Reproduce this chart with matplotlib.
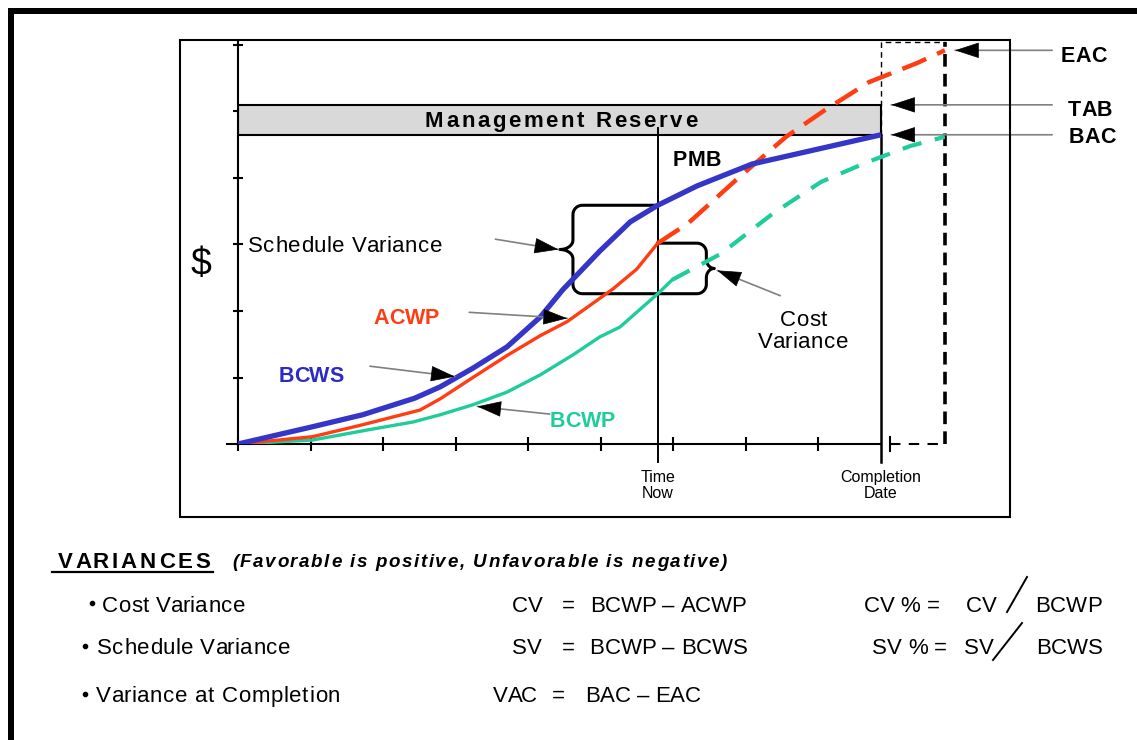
import numpy as np
import matplotlib
matplotlib.use("Agg")
import matplotlib.pyplot as plt
from matplotlib.patches import Rectangle, FancyArrowPatch
from matplotlib.lines import Line2D

# DATA (months on x, $ units on y)
BCWS_MONTH = [0, 1.03, 1.72, 2.44, 2.79, 3.24, 3.71, 4.17, 4.48, 4.99, 5.41, 5.79, 6.33, 7.09, 7.94, 8.87]
BCWS_COST = [0, 0.26, 0.44, 0.69, 0.86, 1.14, 1.46, 1.91, 2.32, 2.90, 3.34, 3.59, 3.88, 4.21, 4.42, 4.65]

ACWP_MONTH = [0, 1.03, 1.72, 2.51, 2.79, 3.24, 3.71, 4.17, 4.54, 4.90, 5.17, 5.50, 5.79]
ACWP_COST = [0, 0.11, 0.29, 0.51, 0.68, 1.00, 1.33, 1.63, 1.84, 2.12, 2.33, 2.63, 3.02]
# forecast of actual cost to the estimate at completion
EAC_MONTH = [5.79, 6.21, 6.90, 7.56, 8.08, 8.70, 9.37, 9.75]
EAC_COST = [3.02, 3.32, 4.00, 4.62, 5.01, 5.44, 5.73, 5.92]

BCWP_MONTH = [0, 1.03, 1.78, 2.41, 2.79, 3.24, 3.71, 4.17, 4.62, 4.99, 5.27, 5.54, 5.79, 5.99]
BCWP_COST = [0, 0.06, 0.21, 0.33, 0.44, 0.59, 0.78, 1.04, 1.34, 1.61, 1.76, 2.02, 2.26, 2.47]
BCWP_FC_MONTH = [5.99, 6.66, 7.37, 8.04, 8.66, 9.27, 9.75]
BCWP_FC_COST = [2.47, 2.86, 3.46, 3.94, 4.23, 4.48, 4.62]

TIME_NOW = 5.79
COMPLETION = 8.87
HORIZON = 9.75
TOP = 6.05
TAB = 5.10
BAC = BCWS_COST[-1]
EAC = EAC_COST[-1]

BLUE = "#3535c8"
RED = "#ff3d12"
GREEN = "#1ecc9c"
WIDE = ["Liberation Sans", "DejaVu Sans"]
NARROW = ["Liberation Sans Narrow", "Liberation Sans", "DejaVu Sans"]

W, H = 1137, 740
fig = plt.figure(figsize=(W / 100, H / 100), dpi=100)


def fx(x, y):
    # image pixel (top-left origin) -> figure fraction
    return x / W, 1 - y / H


def fit_text(x0, x1, base, s, **kw):
    # letter-spaced text running from pixel x0 to x1 on baseline `base`
    r = fig.canvas.get_renderer()

    def width(t):
        probe = fig.text(0, 0, t, **kw)
        w = probe.get_window_extent(r).width
        probe.remove()
        return w
    bar = width("|")
    starts = [0.0] + [width(s[:i] + "|") - bar for i in range(1, len(s))]
    natural = width(s)
    gap = (x1 - x0 - natural) / max(len(s) - 1, 1)
    if gap < 0:  # never squeeze letters together, just centre the word
        x0 = (x0 + x1 - natural) / 2
        gap = 0
    for i, ch in enumerate(s):
        if ch.strip():
            fig.text(*fx(x0 + starts[i] + i * gap, base), ch, ha="left", va="baseline", **kw)


# page frame and the chart box
fig.add_artist(Rectangle(fx(8, 14), (W - 8) / W, 6 / H, transform=fig.transFigure, fc="k", ec="none"))
fig.add_artist(Rectangle((8 / W, 0), 6 / W, (H - 8) / H, transform=fig.transFigure, fc="k", ec="none"))
fig.add_artist(Rectangle(fx(180, 517), 830 / W, 477 / H, transform=fig.transFigure,
                         fill=False, ec="k", lw=1.5))

ax = fig.add_axes([238 / W, 1 - 444 / H, HORIZON * 72.5 / W, TOP * 66.5 / H])
ax.set_xlim(0, HORIZON)
ax.set_ylim(0, TOP)
ax.patch.set_visible(False)
for s in ("top", "right"):
    ax.spines[s].set_visible(False)
for s in ("left", "bottom"):
    ax.spines[s].set_linewidth(1.5)
ax.spines["bottom"].set_bounds(-0.15, COMPLETION)
ax.spines["bottom"].set_clip_on(False)

ax.set_xticks(range(9))
ax.set_xticklabels([])
ax.set_yticks(range(1, 7))
ax.set_yticklabels([])
ax.tick_params(direction="inout", width=1.5)
ax.tick_params(axis="x", length=10)
ax.tick_params(axis="y", length=7)
ax.set_xticks([TIME_NOW, COMPLETION], ["Time\nNow", "Completion\nDate"], minor=True)
ax.tick_params(axis="x", which="minor", length=0, pad=19, labelsize=11.5)
for lbl in ax.get_xticklabels(minor=True):
    lbl.set_family(NARROW)
    lbl.set_linespacing(1.05)

# management reserve band
ax.add_patch(Rectangle((0, BAC), COMPLETION, TAB - BAC, fc="#d9d9d9", ec="k", lw=1.5, zorder=2))

# time now and completion markers
ax.plot([TIME_NOW, TIME_NOW], [-0.27, 4.75], color="k", lw=1.4, clip_on=False, zorder=3)
ax.plot([COMPLETION, COMPLETION], [-0.27, BAC], color="k", lw=1.8, clip_on=False, zorder=3)
ax.plot([COMPLETION, COMPLETION, HORIZON], [BAC, TOP, TOP], color="k", lw=1.0,
        dashes=(4, 3), clip_on=False)
ax.plot([HORIZON, HORIZON], [0, TOP], color="k", lw=2.6, dashes=(3.5, 2), clip_on=False)
ax.plot([8.99, HORIZON], [0, 0], color="k", lw=1.5, dashes=(5, 4), clip_on=False)
ax.plot([8.99, 8.99], [-0.1, 0.1], color="k", lw=1.5, clip_on=False)

# the three curves
ax.plot(BCWP_MONTH, BCWP_COST, color=GREEN, lw=2.4, zorder=5)
ax.plot(BCWP_FC_MONTH, BCWP_FC_COST, color=GREEN, lw=3.0, dashes=(4.7, 3.3), zorder=5)
ax.plot(ACWP_MONTH, ACWP_COST, color=RED, lw=2.4, zorder=5)
ax.plot(EAC_MONTH, EAC_COST, color=RED, lw=3.2, dashes=(5.8, 2.7), zorder=5, clip_on=False)
ax.plot(BCWS_MONTH, BCWS_COST, color=BLUE, lw=3.8, zorder=6, solid_capstyle="butt")


def brace(x_edge, x_spine, x_tip, y_top, y_bot, rx=0.13, ry=0.14):
    d = np.sign(x_edge - x_spine)
    ym = (y_top + y_bot) / 2
    dx = x_spine - x_tip
    t = np.linspace(0, np.pi / 2, 12)
    xs = np.concatenate([[x_edge], x_spine + d * rx - d * rx * np.sin(t),
                         x_tip + dx * np.cos(t), x_tip + dx * np.cos(t[::-1]),
                         x_spine + d * rx - d * rx * np.sin(t[::-1]), [x_edge]])
    ys = np.concatenate([[y_top], y_top - ry + ry * np.cos(t),
                         ym + ry - ry * np.sin(t), ym - ry + ry * np.sin(t[::-1]),
                         y_bot + ry - ry * np.cos(t[::-1]), [y_bot]])
    ax.plot(xs, ys, color="k", lw=2.2, solid_joinstyle="round", zorder=4)
    return x_tip, ym


sv_now = np.interp(TIME_NOW, BCWS_MONTH, BCWS_COST)
ev_now = np.interp(TIME_NOW, BCWP_MONTH, BCWP_COST)
ac_now = np.interp(TIME_NOW, ACWP_MONTH, ACWP_COST)
sv_tip = brace(TIME_NOW, 4.62, 4.44, sv_now, ev_now)
cv_tip = brace(TIME_NOW, 6.46, 6.57, ac_now, ev_now)


def pointer(tail, tip):
    ax.add_patch(FancyArrowPatch(tail, tip, arrowstyle="-", color="#808080", lw=1.2,
                                 shrinkA=0, shrinkB=0, clip_on=False, zorder=7))
    a = ax.transData.transform(tail)
    b = ax.transData.transform(tip)
    u = (b - a) / np.hypot(*(b - a))
    base = ax.transData.inverted().transform(b - u * 20)
    ax.add_patch(FancyArrowPatch(base, tip, arrowstyle="-|>,head_length=0.8,head_width=0.26",
                                 mutation_scale=20, color="k", lw=0.5, shrinkA=0, shrinkB=0,
                                 clip_on=False, zorder=8))


pointer((3.55, 3.08), (sv_tip[0] - 0.02, sv_tip[1]))
pointer((7.48, 2.23), (cv_tip[0] + 0.04, cv_tip[1] - 0.03))
pointer((3.19, 1.98), (4.54, np.interp(4.54, ACWP_MONTH, ACWP_COST) + 0.05))
pointer((1.82, 1.17), (2.99, np.interp(2.99, BCWS_MONTH, BCWS_COST) + 0.03))
pointer((4.30, 0.45), (3.30, np.interp(3.30, BCWP_MONTH, BCWP_COST) - 0.05))
pointer((11.23, EAC), (9.89, EAC))
pointer((11.23, TAB), (9.01, TAB))
pointer((11.23, BAC), (9.01, BAC))

# chart labels
bold = dict(family=WIDE, weight="bold", size=15.5)
narrow = dict(family=NARROW, size=16)
fit_text(425, 697, 127, "Management Reserve", family=WIDE, weight="bold", size=16)
fit_text(673, 721, 166, "PMB", **bold)
fit_text(248, 442, 252, "Schedule Variance", **narrow)
fit_text(375, 438, 324, "ACWP", color=RED, **bold)
fit_text(279, 343, 382, "BCWS", color="#2b2bc4", **bold)
fit_text(551, 614, 427, "BCWP", color=GREEN, **bold)
fit_text(780, 827, 326, "Cost", **narrow)
fit_text(758, 848, 348, "Variance", **narrow)
fit_text(1061, 1107, 62, "EAC", **bold)
fit_text(1068, 1112, 116, "TAB", **bold)
fit_text(1069, 1115, 143, "BAC", **bold)
fig.text(*fx(201, 265), "$", family=NARROW, size=27, ha="center", va="center")

# variance formulas
fit_text(58, 210, 568, "VARIANCES", family=WIDE, weight="bold", size=16)
fig.add_artist(Line2D([52 / W, 213 / W], [1 - 572 / H] * 2, transform=fig.transFigure, color="k", lw=1.6))
fit_text(232, 727, 567, "(Favorable is positive, Unfavorable is negative)",
         family=WIDE, weight="bold", style="italic", size=13.5)

rows = [
    (92, 603, 102, 245, 612, "Cost Variance"),
    (85, 646, 97, 290, 654, "Schedule Variance"),
    (85, 694, 96, 340, 702, "Variance at Completion"),
]
for bx, by, x0, x1, base, label in rows:
    fig.add_artist(Line2D([bx / W], [1 - by / H], transform=fig.transFigure, marker="o",
                          ms=3.0, color="k", lw=0))
    fit_text(x0, x1, base, label, **narrow)

fit_text(515, 539, 612, "CV", **narrow)
fit_text(564, 572, 612, "=", **narrow)
fit_text(590, 746, 612, "BCWP \u2013 ACWP", **narrow)
fit_text(515, 539, 654, "SV", **narrow)
fit_text(564, 572, 654, "=", **narrow)
fit_text(590, 747, 654, "BCWP \u2013 BCWS", **narrow)
fit_text(493, 537, 702, "VAC", **narrow)
fit_text(555, 562, 702, "=", **narrow)
fit_text(585, 701, 702, "BAC \u2013 EAC", **narrow)

fit_text(865, 938, 612, "CV % =", **narrow)
fit_text(968, 994, 612, "CV", **narrow)
fit_text(1037, 1100, 612, "BCWP", **narrow)
fit_text(872, 947, 654, "SV % =", **narrow)
fit_text(966, 991, 654, "SV", **narrow)
fit_text(1037, 1101, 654, "BCWS", **narrow)
for (xa, ya), (xb, yb) in [((1007, 612), (1027, 577)), ((993, 660), (1022, 623))]:
    fig.add_artist(Line2D([xa / W, xb / W], [1 - ya / H, 1 - yb / H], transform=fig.transFigure,
                          color="k", lw=1.4))

fig.savefig("out.png", dpi=100, facecolor="white")
